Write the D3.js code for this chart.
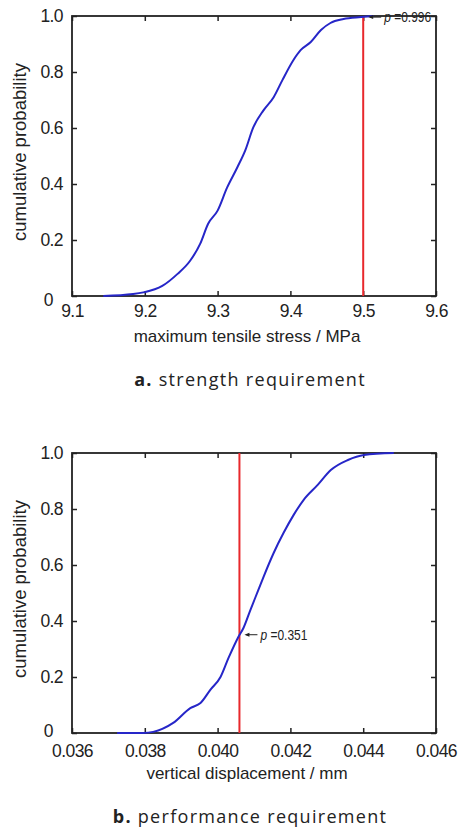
<!DOCTYPE html>
<html>
<head>
<meta charset="utf-8">
<script src="https://cdn.jsdelivr.net/npm/d3@7"></script>
<style>
  body { margin: 0; background: #fff; }
  svg text { font-family: "Liberation Sans", Arial, sans-serif; fill: #222; }
  .caption { font-family: "Open Sans", "Noto Sans", sans-serif; }
</style>
</head>
<body>
<svg id="chart" width="458" height="829"></svg>
<script>
// panel a: maximum tensile stress CDF
const stressTicks = [9.1, 9.2, 9.3, 9.4, 9.5, 9.6];
const stressX = [9.143, 9.184, 9.198, 9.224, 9.245, 9.262, 9.276, 9.287, 9.300, 9.313, 9.327, 9.338,
  9.349, 9.363, 9.377, 9.389, 9.404, 9.414, 9.428, 9.442, 9.455, 9.473, 9.497, 9.514];
const stressP = [0.0, 0.007, 0.013, 0.036, 0.079, 0.125, 0.186, 0.258, 0.305, 0.387, 0.459, 0.52,
  0.602, 0.663, 0.71, 0.771, 0.842, 0.878, 0.907, 0.95, 0.975, 0.989, 0.996, 1.0];
const stressLimit = 9.5;
const stressLabel = "0.996";

// panel b: vertical displacement CDF
const dispTicks = [0.036, 0.038, 0.040, 0.042, 0.044, 0.046];
const dispX = [0.03724, 0.03796, 0.03823, 0.03878, 0.03925, 0.03953, 0.0398, 0.04008, 0.0403, 0.04057,
  0.04071, 0.0409, 0.04112, 0.04126, 0.04154, 0.04181, 0.04209, 0.04236, 0.04275, 0.04311, 0.04358,
  0.04402, 0.04484];
const dispP = [0.0, 0.0, 0.004, 0.036, 0.089, 0.107, 0.154, 0.2, 0.268, 0.343,
  0.375, 0.439, 0.511, 0.557, 0.643, 0.714, 0.779, 0.832, 0.886, 0.939, 0.975,
  0.993, 1.0];
const dispLimit = 0.0406;
const dispLabel = "0.351";

const yTicks = [0, 0.2, 0.4, 0.6, 0.8, 1.0];

const svg = d3.select("#chart");

function drawPanel(config) {
  const { top, xs, ps, xTicks, xFormat, limit, pLabel, xTitle, capBold, capText, xPad, zeroShift } = config;
  const left = 72, width = 364, height = 280;
  const g = svg.append("g").attr("transform", `translate(${left},${top})`);

  const x = d3.scaleLinear().domain([xTicks[0], xTicks[xTicks.length - 1]]).range([0, width]);
  const y = d3.scaleLinear().domain([0, 1]).range([height, 0]);

  // inward ticks on all four sides, like a matlab box
  const tk = 5;
  const styleAxis = (a) => {
    a.select(".domain").remove();
    a.selectAll(".tick line").attr("stroke", "#222").attr("stroke-width", 1.5);
  };
  g.append("g").attr("transform", `translate(0,${height})`)
    .call(d3.axisBottom(x).tickValues(xTicks).tickSize(-tk).tickPadding(xPad).tickFormat(xFormat))
    .call(styleAxis)
    .selectAll("text").attr("font-size", 17.5).attr("letter-spacing", -0.6).attr("font-family", null);
  g.append("g")
    .call(d3.axisTop(x).tickValues(xTicks).tickSize(-tk).tickFormat(""))
    .call(styleAxis);
  const yAx = g.append("g")
    .call(d3.axisLeft(y).tickValues(yTicks).tickSize(-tk).tickPadding(tk + 4)
      .tickFormat((d) => (d === 0 ? "0" : d3.format(".1f")(d))))
    .call(styleAxis);
  yAx.selectAll("text").attr("font-size", 17.5).attr("letter-spacing", -0.6).attr("font-family", null);
  // the "0" label sits a little off the axis corner in the original
  yAx.selectAll(".tick text").filter((d) => d === 0).attr("x", -19).attr("y", zeroShift);
  g.append("g").attr("transform", `translate(${width},0)`)
    .call(d3.axisRight(y).tickValues(yTicks).tickSize(-tk).tickFormat(""))
    .call(styleAxis);
  g.selectAll(".tick text").attr("fill", "#222");

  g.append("rect").attr("width", width).attr("height", height)
    .attr("fill", "none").attr("stroke", "#222").attr("stroke-width", 1.8);

  // limit line
  g.append("line")
    .attr("x1", x(limit)).attr("x2", x(limit))
    .attr("y1", 0).attr("y2", height)
    .attr("stroke", "#e8282c").attr("stroke-width", 2);

  // cdf curve
  const pts = xs.map((v, i) => [v, ps[i]]);
  g.append("path").datum(pts)
    .attr("fill", "none").attr("stroke", "#2626c8").attr("stroke-width", 2)
    .attr("stroke-linejoin", "round")
    .attr("d", d3.line().curve(d3.curveMonotoneX).x((d) => x(d[0])).y((d) => y(d[1])));

  // annotation arrow + p label
  const pVal = +pLabel;
  const ax = x(limit) + 5, ay = y(pVal);
  g.append("line").attr("x1", ax + 13).attr("x2", ax + 2).attr("y1", ay).attr("y2", ay)
    .attr("stroke", "#222").attr("stroke-width", 1);
  g.append("path")
    .attr("d", `M${ax},${ay} l5,-2 l0,4 z`).attr("fill", "#222");
  const t = g.append("text").attr("x", ax + 16).attr("y", ay + 5).attr("font-size", 14)
    .attr("textLength", 47).attr("lengthAdjust", "spacingAndGlyphs");
  t.append("tspan").attr("font-style", "italic").text("p");
  t.append("tspan").text(" =" + pLabel);

  // axis titles
  g.append("text").attr("x", width / 2 - 7).attr("y", height + 46)
    .attr("text-anchor", "middle").attr("font-size", 17).text(xTitle);
  g.append("text")
    .attr("transform", `translate(-46,${height / 2 - 4}) rotate(-90)`)
    .attr("text-anchor", "middle").attr("font-size", 18.5)
    .text("cumulative probability");

  // caption
  const c = svg.append("text").attr("class", "caption")
    .attr("x", 250).attr("y", top + height + 90)
    .attr("text-anchor", "middle").attr("font-size", 18).attr("letter-spacing", 1.3);
  c.append("tspan").attr("font-weight", "bold").text(capBold);
  c.append("tspan").text("  " + capText);
}

drawPanel({
  top: 16, xs: stressX, ps: stressP, xTicks: stressTicks, xFormat: d3.format(".1f"),
  limit: stressLimit, pLabel: stressLabel, xTitle: "maximum tensile stress / MPa",
  capBold: "a.", capText: "strength requirement", xPad: 9, zeroShift: 4
});
drawPanel({
  top: 453, xs: dispX, ps: dispP, xTicks: dispTicks, xFormat: d3.format(".3f"),
  limit: dispLimit, pLabel: dispLabel, xTitle: "vertical displacement / mm",
  capBold: "b.", capText: "performance requirement", xPad: 12, zeroShift: -2
});
</script>
</body>
</html>
